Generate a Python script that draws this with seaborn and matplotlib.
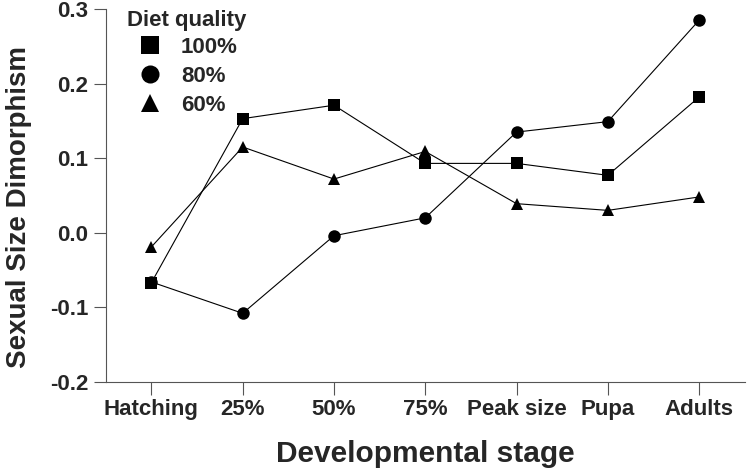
import pandas as pd
import numpy as np
import seaborn as sns
import matplotlib.pyplot as plt

# data
stages = ['Hatching', '25%', '50%', '75%', 'Peak size', 'Pupa', 'Adults']
ssd_100 = [-0.067, 0.153, 0.171, 0.093, 0.093, 0.077, 0.182]
ssd_80 = [-0.066, -0.108, -0.004, 0.020, 0.135, 0.149, 0.285]
ssd_60 = [-0.019, 0.115, 0.072, 0.109, 0.039, 0.030, 0.048]
diets = ['100%', '80%', '60%']

df = pd.DataFrame({
    'stage': stages * 3,
    'ssd': ssd_100 + ssd_80 + ssd_60,
    'diet': np.repeat(diets, len(stages)),
})

sns.set_style('ticks')
plt.rcParams['font.family'] = ['Liberation Sans', 'DejaVu Sans']
plt.rcParams['font.weight'] = 'bold'

fig = plt.figure(figsize=(7.5, 4.75), dpi=100)
ax = fig.add_axes([0.141, 0.196, 0.852, 0.785])

sns.lineplot(data=df, x='stage', y='ssd', style='diet', style_order=diets,
             markers={'100%': 's', '80%': 'o', '60%': '^'}, dashes=False,
             color='black', lw=0.8, markersize=9, markeredgewidth=0,
             ax=ax, legend=True)

ax.set_xlim(-0.5, 6.5)
ax.set_ylim(-0.2, 0.3)
ax.set_yticks([-0.2, -0.1, 0.0, 0.1, 0.2, 0.3])
ax.set_yticklabels(['-0.2', '-0.1', '0.0', '0.1', '0.2', '0.3'])
ax.tick_params(length=9, width=0.8, color='#555555', labelsize=16)
for lbl in ax.get_xticklabels() + ax.get_yticklabels():
    lbl.set_fontweight('bold')
for s in ['left', 'bottom']:
    ax.spines[s].set_color('#555555')
    ax.spines[s].set_linewidth(0.8)
sns.despine(ax=ax)

ax.set_xlabel('Developmental stage', fontsize=21.5, fontweight='bold', labelpad=14)
ax.set_ylabel('Sexual Size Dimorphism', fontsize=20, fontweight='bold', labelpad=8)
ax.yaxis.set_label_coords(-0.115, 0.47)

leg = ax.legend(title='Diet quality', loc='upper left', bbox_to_anchor=(0.02, 1.02),
                frameon=False, fontsize=16, title_fontsize=16,
                handlelength=2.0, handletextpad=0.4, labelspacing=0.35,
                borderaxespad=0)
leg.get_title().set_fontweight('bold')
leg._legend_box.align = 'left'
leg._legend_box.sep = 4
for h in leg.legend_handles:
    h.set_linestyle('none')
    h.set_markersize(13)

fig.savefig('out.png', dpi=100)
